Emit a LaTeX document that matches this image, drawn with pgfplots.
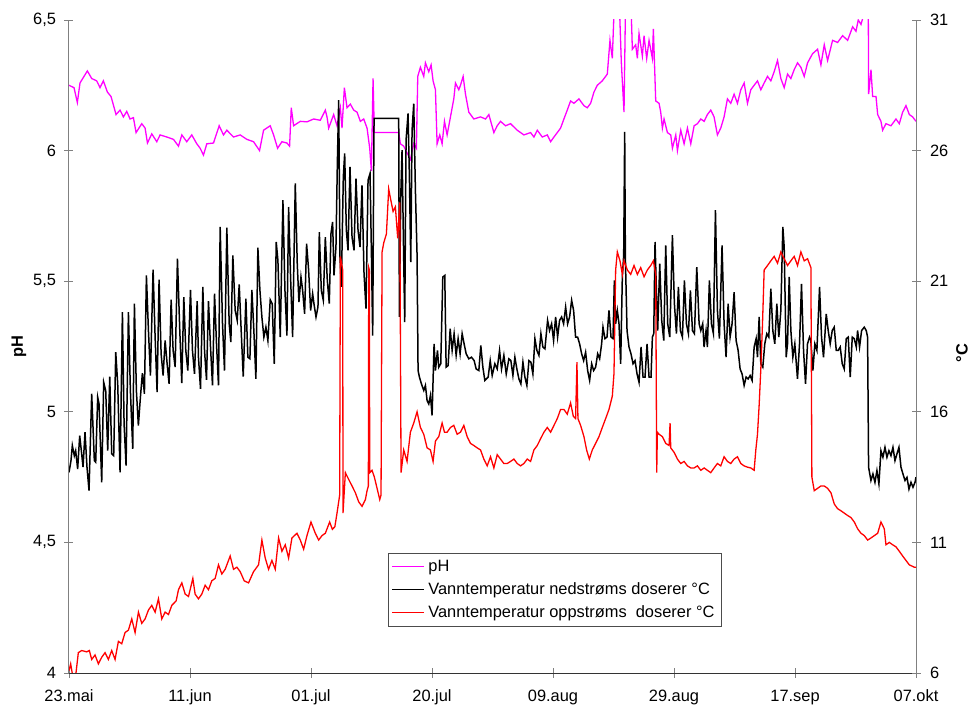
\documentclass[border=0pt]{standalone}
\usepackage{fontspec}
\setmainfont{Liberation Sans}
\usepackage{pgfplots}
\usepackage{pgfplotstable}
\pgfplotsset{compat=1.18}
\definecolor{phpink}{HTML}{FF00FF}
\definecolor{tred}{HTML}{FF0000}
\definecolor{axgray}{HTML}{808080}

\pgfplotstableread{
d v
0 6.25
0.81 6.241
1.35 6.184
1.78 6.259
2.97 6.305
3.67 6.276
4.48 6.267
5.02 6.241
5.56 6.267
6.21 6.224
6.80 6.207
7.61 6.138
8.26 6.155
8.80 6.129
9.34 6.15
9.88 6.121
10.42 6.126
10.85 6.069
11.77 6.103
12.31 6.086
12.69 6.029
13.39 6.064
14.20 6.034
14.74 6.06
15.82 6.052
16.90 6.043
17.71 6.017
18.25 6.06
19.05 6.034
19.86 6.06
20.67 6.026
21.21 6.009
21.75 5.983
22.29 6.026
23.37 6.029
24.29 6.095
24.99 6.06
25.53 6.078
26.61 6.052
27.69 6.06
28.77 6.043
29.85 6.034
30.82 6.0
31.47 6.078
32.55 6.095
33.09 6.06
33.74 6.009
34.44 6.034
35.25 6.029
35.68 6.017
35.95 6.164
36.33 6.095
37.41 6.112
38.49 6.11
39.57 6.121
40.65 6.116
41.46 6.155
41.73 6.129
42.0 6.086
42.81 6.138
43.35 6.095
43.89 6.164
44.16 6.086
44.54 6.241
44.97 6.164
45.51 6.178
46.05 6.155
46.59 6.147
47.13 6.112
47.67 6.121
48.21 6.086
48.64 6.009
48.91 5.922
49.18 6.276
49.39 6.069
53.33 6.069
53.60 6.026
54.14 6.017
54.68 5.991
55.22 5.966
55.76 6.026
56.19 6.009
56.41 6.284
56.84 6.319
57.38 6.284
57.65 6.336
58.19 6.302
58.57 6.328
58.89 6.267
59.27 6.233
59.54 6.026
59.97 6.06
60.35 6.026
60.73 6.112
61.16 6.06
61.70 6.129
62.24 6.198
62.51 6.259
63.05 6.233
63.32 6.25
63.75 6.284
64.13 6.216
64.67 6.147
65.48 6.121
66.56 6.129
67.37 6.121
67.91 6.138
68.72 6.069
69.26 6.095
69.80 6.112
70.61 6.095
71.42 6.103
72.50 6.078
73.58 6.06
74.66 6.069
75.20 6.052
75.74 6.078
76.55 6.052
77.36 6.06
77.90 6.034
78.44 6.052
78.98 6.069
79.51 6.086
80.05 6.121
80.59 6.155
81.13 6.19
81.67 6.181
82.48 6.198
83.29 6.172
83.83 6.164
84.37 6.181
84.91 6.224
85.45 6.25
86.26 6.267
87.07 6.293
87.50 6.422
87.88 6.353
88.26 6.6
88.96 6.6
89.34 6.336
89.77 6.147
90.04 6.6
90.85 6.6
91.12 6.388
91.66 6.405
91.93 6.353
92.20 6.448
92.74 6.362
93.01 6.44
93.44 6.353
93.82 6.422
94.36 6.353
94.52 6.466
94.90 6.19
95.44 6.181
95.71 6.147
95.98 6.086
96.25 6.121
96.79 6.069
97.33 6.06
97.60 6.009
98.14 6.06
98.41 6.0
98.95 6.078
99.49 6.026
100.03 6.086
100.57 6.026
101.11 6.095
101.65 6.103
102.19 6.121
102.73 6.112
103.26 6.138
103.80 6.155
104.34 6.129
104.88 6.06
105.42 6.086
105.96 6.129
106.50 6.198
107.04 6.181
107.58 6.216
108.12 6.181
108.66 6.233
109.20 6.259
109.74 6.181
110.28 6.233
110.82 6.25
111.36 6.267
111.90 6.233
112.44 6.259
112.98 6.284
113.52 6.267
114.06 6.302
114.60 6.345
115.14 6.276
115.68 6.241
116.22 6.293
116.76 6.276
117.30 6.31
117.84 6.336
118.38 6.319
118.92 6.284
119.46 6.336
120.27 6.371
121.08 6.388
121.62 6.328
122.16 6.405
122.70 6.345
123.51 6.422
124.32 6.414
125.13 6.44
125.94 6.422
126.75 6.474
127.29 6.457
127.66 6.5
128.10 6.483
128.90 6.55
129.28 6.55
129.34 6.216
129.72 6.31
129.99 6.207
130.53 6.207
130.80 6.138
131.33 6.112
131.60 6.078
132.14 6.103
132.95 6.095
133.76 6.121
134.30 6.103
134.84 6.147
135.38 6.172
135.92 6.138
136.46 6.129
137.0 6.112
}\phdata

\pgfplotstableread{
d v
0.00 13.68
0.32 14.13
0.54 14.71
0.86 14.32
1.08 14.51
1.40 13.81
1.73 15.09
2.05 14.39
2.27 13.88
2.59 15.22
2.91 13.88
3.24 12.98
3.67 16.69
4.10 14.13
4.32 14.07
4.64 16.56
4.86 16.30
5.29 13.30
5.61 17.13
5.94 16.81
6.26 14.51
6.59 17.35
6.91 14.39
7.23 14.32
7.56 18.28
7.88 17.07
8.26 13.68
8.64 19.82
8.91 15.54
9.23 13.94
9.61 19.82
9.93 16.81
10.31 14.58
10.58 20.14
10.90 16.81
11.22 15.47
11.55 16.56
11.87 17.48
12.20 16.69
12.52 21.22
12.85 19.11
13.17 17.39
13.60 21.44
13.93 18.86
14.25 16.75
14.57 21.06
14.90 18.22
15.22 17.39
15.55 18.73
15.87 17.84
16.19 17.07
16.52 20.29
16.84 18.35
17.17 17.71
17.54 21.86
17.92 19.11
18.24 17.10
18.57 20.39
18.89 18.35
19.22 17.58
19.65 20.67
19.97 18.35
20.30 17.45
20.73 20.24
20.94 18.09
21.27 16.88
21.65 20.78
21.92 18.35
22.24 17.22
22.56 20.24
22.89 18.48
23.21 17.01
23.54 20.52
23.86 18.60
24.18 17.01
24.45 23.08
24.83 19.37
25.15 17.58
25.53 23.05
25.91 19.37
26.18 18.67
26.50 21.99
26.88 19.88
27.21 19.50
27.53 20.88
27.85 19.11
28.18 17.35
28.61 20.33
28.93 18.09
29.26 18.03
29.58 20.67
29.90 19.11
30.23 17.26
30.55 22.28
30.88 20.65
31.20 19.63
31.52 18.86
31.85 19.24
32.17 18.73
32.55 20.29
32.87 20.14
33.20 17.84
33.52 22.50
33.79 21.80
34.17 18.86
34.60 24.10
34.93 20.65
35.25 18.92
35.52 23.84
35.84 21.16
36.17 18.86
36.60 24.74
36.92 21.67
37.19 20.20
37.52 21.16
37.79 20.65
38.11 19.75
38.43 22.44
38.76 21.42
39.08 19.88
39.41 20.52
39.62 20.14
39.95 19.63
40.27 20.01
40.49 22.88
40.81 20.65
41.13 20.27
41.46 22.69
41.78 21.03
42.10 20.14
42.37 22.82
42.64 23.27
42.86 21.22
43.18 22.31
43.40 25.44
43.62 27.93
43.83 21.93
44.05 20.78
44.37 24.99
44.59 25.89
44.86 22.95
45.13 22.18
45.45 25.38
45.78 22.69
46.10 22.18
46.42 24.93
46.75 22.95
47.07 22.31
47.39 24.67
47.72 21.29
48.04 19.95
48.37 24.87
48.69 25.12
48.91 22.18
49.12 18.92
49.34 27.23
53.33 27.23
53.44 19.63
53.66 24.23
53.87 26.02
54.09 22.57
54.30 19.43
54.52 26.40
54.84 27.42
55.06 24.99
55.28 21.73
55.49 26.78
55.76 27.80
56.03 24.48
56.30 21.99
56.46 17.58
56.68 17.33
57.00 17.07
57.38 16.82
57.65 17.01
57.92 16.43
58.19 16.30
58.46 16.62
58.73 15.86
59.05 18.60
59.27 17.58
59.60 18.35
59.81 17.71
60.13 17.84
60.46 21.16
60.78 21.22
61.00 17.71
61.32 17.77
61.65 19.18
61.97 18.35
62.29 18.99
62.62 18.16
62.94 18.80
63.26 18.22
63.59 18.99
63.91 18.60
64.24 18.22
64.67 18.03
65.10 18.09
65.53 17.96
65.86 17.64
66.29 17.58
66.61 18.54
66.94 17.71
67.26 17.20
67.80 17.33
68.13 17.96
68.45 17.39
68.88 17.84
69.26 17.64
69.64 18.35
69.96 17.64
70.34 18.16
70.72 17.45
71.15 18.03
71.47 17.96
71.80 17.39
72.12 18.09
72.44 17.64
72.77 17.26
73.09 17.07
73.42 17.90
73.74 17.33
74.06 17.01
74.39 17.96
74.71 17.90
75.03 17.45
75.36 18.80
75.68 18.35
76.01 18.16
76.33 18.99
76.65 18.48
76.98 18.41
77.41 19.50
77.73 19.11
78.06 19.37
78.38 18.73
78.71 19.63
79.03 18.86
79.35 19.50
79.68 19.63
80.00 19.37
80.33 20.01
80.65 19.37
80.97 19.63
81.30 20.27
81.62 19.88
81.94 18.86
82.27 18.86
82.59 18.60
82.92 18.22
83.24 17.96
83.56 18.28
83.89 17.58
84.21 17.20
84.54 17.84
84.86 17.58
85.18 17.71
85.51 18.22
85.83 18.03
86.15 18.60
86.37 19.24
86.69 18.80
87.02 18.86
87.34 19.88
87.67 18.86
87.99 18.80
88.21 21.03
88.42 19.37
88.69 19.88
88.96 19.37
89.23 17.84
89.50 21.16
89.72 21.99
89.88 26.72
89.99 21.93
90.26 19.11
90.58 18.48
90.90 18.22
91.23 17.84
91.55 17.96
91.88 17.45
92.20 17.13
92.53 18.48
92.85 17.33
93.17 17.33
93.50 18.60
93.82 17.33
94.14 17.33
94.36 18.86
94.58 18.99
94.79 22.50
95.01 20.65
95.22 19.11
95.55 21.67
95.87 19.50
96.20 18.73
96.52 22.37
96.84 19.37
97.17 18.86
97.60 22.76
97.92 20.14
98.25 18.99
98.57 20.78
98.89 19.11
99.22 18.86
99.54 21.03
99.87 19.37
100.19 18.99
100.51 20.65
100.84 19.11
101.16 18.99
101.54 21.54
101.92 19.37
102.19 19.11
102.50 19.37
102.72 18.48
103.04 19.11
103.26 18.48
103.58 21.03
103.91 19.37
104.23 18.99
104.56 23.72
104.88 19.88
105.20 18.80
105.63 22.37
105.96 19.37
106.28 18.09
106.61 20.14
106.93 18.86
107.25 19.37
107.58 20.58
107.90 18.73
108.23 18.35
108.55 17.64
108.87 17.45
109.20 17.01
109.52 17.33
109.85 17.26
110.17 17.39
110.49 17.20
110.82 18.48
111.14 18.80
111.36 18.09
111.63 19.63
111.90 17.84
112.22 17.71
112.54 18.60
112.87 18.99
113.19 18.86
113.52 20.71
113.84 19.11
114.16 18.60
114.49 20.14
114.81 18.86
115.14 19.88
115.46 23.08
115.68 22.31
116.00 18.09
116.22 18.60
116.49 21.16
116.76 19.11
117.08 18.09
117.40 18.60
117.83 17.26
118.16 18.60
118.48 20.90
118.81 18.35
119.13 17.07
119.45 18.60
119.78 18.86
119.99 18.73
120.32 17.58
120.64 18.60
120.97 18.35
121.40 20.78
121.72 18.86
122.04 18.09
122.48 19.75
122.80 19.11
123.12 18.60
123.45 19.11
123.77 19.24
124.10 18.35
124.42 18.35
124.74 18.48
125.07 17.84
125.39 17.64
125.72 18.80
126.04 18.86
126.36 17.33
126.69 18.86
127.01 18.80
127.34 18.48
127.55 19.11
127.87 18.48
128.20 19.11
128.63 19.24
128.95 19.11
129.17 18.86
129.33 13.88
129.71 13.37
130.03 13.62
130.36 13.30
130.68 13.75
131.00 13.24
131.33 14.51
131.65 14.26
131.98 14.64
132.30 14.26
132.62 14.51
132.95 14.32
133.27 14.64
133.60 14.13
133.92 14.39
134.24 14.64
134.57 13.88
134.89 13.62
135.22 13.37
135.54 13.49
135.86 13.04
136.19 13.30
136.51 13.11
136.84 13.30
137.0 13.5
}\blackdata

\pgfplotstableread{
d v
0.00 6.09
0.27 6.35
0.59 5.9
1.13 6.0
1.51 6.78
2.05 6.86
2.86 6.81
3.29 6.86
3.67 6.52
4.21 6.69
4.75 6.35
5.29 6.60
5.83 6.78
6.37 6.52
6.91 6.86
7.45 6.52
7.99 7.21
8.53 7.12
9.07 7.55
9.61 7.64
10.15 8.07
10.69 7.55
11.23 8.33
11.77 7.90
12.31 8.07
12.85 8.41
13.39 8.59
13.93 8.33
14.47 8.84
15.01 8.07
15.55 8.33
16.09 8.24
16.63 8.59
17.33 8.76
17.71 9.19
18.25 9.45
18.79 9.02
19.33 8.93
20.03 9.62
20.40 9.02
20.94 8.84
21.48 9.02
22.02 9.36
22.56 9.19
23.10 9.53
23.64 9.62
24.18 10.14
24.72 9.79
25.26 9.97
26.07 10.48
26.61 9.97
27.15 10.05
27.69 9.88
28.34 9.53
29.04 9.45
29.85 9.88
30.66 10.14
31.20 11.09
31.74 10.40
32.28 9.97
32.82 10.31
33.36 9.97
33.90 11.17
34.44 10.66
34.98 10.91
35.52 10.40
36.06 11.17
36.87 11.35
37.41 11.09
37.95 10.74
38.49 11.26
39.14 11.78
39.84 11.35
40.38 11.09
40.92 11.26
41.46 11.35
42.16 11.78
42.60 11.50
43.00 11.60
43.35 12.12
43.78 12.81
43.89 21.95
44.27 21.43
44.32 12.12
44.70 13.67
45.24 13.41
45.78 13.16
46.32 12.90
46.86 12.55
47.40 12.38
47.94 12.64
48.21 12.98
48.42 13.16
48.48 21.52
48.58 21.43
48.64 13.67
49.02 13.76
49.39 13.50
49.83 13.07
50.26 12.64
50.47 12.81
50.64 22.12
50.91 22.47
51.34 22.81
51.71 24.53
51.98 24.19
52.42 23.67
52.79 23.85
53.17 22.64
53.50 24.02
53.71 13.67
54.14 14.54
54.68 14.10
55.22 15.22
55.76 15.57
56.30 16.00
56.84 15.40
57.38 15.14
57.92 14.62
58.46 14.54
58.89 14.10
59.27 14.88
59.81 15.05
60.35 15.57
60.73 15.22
61.16 15.22
61.70 15.40
62.24 15.48
62.78 15.14
63.32 15.22
63.86 15.48
64.40 15.05
64.94 14.79
65.48 14.71
66.02 14.62
66.56 14.54
67.10 14.19
67.64 13.93
68.18 14.28
68.72 13.85
69.26 14.36
69.80 14.19
70.34 14.02
70.88 14.02
71.42 14.10
71.96 14.19
72.50 14.02
73.04 13.93
73.58 14.02
74.12 14.19
74.66 14.10
75.20 14.54
75.74 14.71
76.28 14.97
76.82 15.22
77.36 15.40
77.90 15.22
78.44 15.48
78.98 15.74
79.51 16.09
80.05 16.09
80.59 15.91
81.13 16.34
81.57 15.83
81.94 15.74
82.16 17.90
82.32 15.74
82.75 15.48
83.29 15.05
83.72 14.54
84.16 14.19
84.64 14.54
85.18 14.79
85.72 15.05
86.26 15.40
86.80 15.74
87.34 16.09
87.88 16.60
88.15 17.47
88.42 21.43
88.69 22.12
89.12 21.78
89.50 21.26
89.77 21.78
90.31 21.43
90.85 21.26
91.39 21.60
91.93 21.26
92.47 21.52
93.01 21.17
93.55 21.43
94.09 21.60
94.52 21.78
94.90 21.26
95.06 13.67
95.17 15.22
95.44 15.14
95.98 15.05
96.52 14.79
97.06 14.71
97.22 15.57
97.33 14.62
97.87 14.45
98.41 14.19
98.95 14.02
99.49 14.10
100.03 13.93
100.57 13.85
101.11 13.85
101.65 13.93
102.19 13.76
102.73 13.85
103.26 13.76
103.80 13.67
104.34 13.85
104.88 14.02
105.42 13.93
105.96 14.28
106.50 14.10
107.04 14.02
107.58 14.19
108.12 14.28
108.66 14.02
109.20 13.93
109.74 13.88
110.28 13.85
110.82 13.76
111.09 14.54
111.36 15.14
111.63 16.26
111.90 17.64
112.17 19.36
112.44 21.43
112.98 21.60
113.52 21.78
114.06 21.95
114.60 21.69
115.14 22.12
115.68 21.86
116.22 21.60
116.76 21.78
117.30 21.95
117.84 21.60
118.38 22.12
118.92 21.78
119.46 21.86
120.00 21.52
120.16 13.50
120.54 12.98
121.08 13.07
121.62 13.16
122.16 13.16
122.70 13.07
123.24 12.90
123.78 12.47
124.32 12.29
124.86 12.21
125.40 12.12
125.94 12.03
126.48 11.95
127.02 11.78
127.56 11.52
128.10 11.35
128.64 11.26
129.18 11.09
129.72 11.17
130.26 11.26
130.80 11.35
131.33 11.78
131.87 11.52
132.14 10.91
132.68 11.00
133.22 10.91
133.76 10.83
134.30 10.66
134.84 10.48
135.38 10.31
135.92 10.14
136.73 10.05
137.00 10.05
}\reddata

\begin{document}
\begin{tikzpicture}
\path[use as bounding box] (-69bp,-33bp) rectangle (902bp,673bp);
\pgfplotsset{
  common/.style={
    at={(0,0)}, anchor=south west, scale only axis,
    width=847bp, height=653bp,
    xmin=0, xmax=137,
    font=\fontsize{16.4bp}{19bp}\selectfont,
    tick align=center, major tick length=9bp,
    tick style={axgray, line width=0.8bp},
    /pgf/number format/assume math mode=true,
  }
}
\begin{axis}[common,
  ymin=4, ymax=6.5,
  axis x line*=bottom, axis y line*=left,
  x axis line style={black!80, line width=0.8bp},
  y axis line style={axgray, line width=1bp},
  xtick={0,19.5714,39.1429,58.7143,78.2857,97.8571,117.4286,137},
  xticklabels={23.mai,11.jun,01.jul,20.jul,09.aug,29.aug,17.sep,07.okt},
  xticklabel style={yshift=-9bp},
  ytick={4,4.5,5,5.5,6,6.5},
  yticklabels={4,{4,5},5,{5,5},6,{6,5}},
  yticklabel style={xshift=-5bp},
  ylabel={\bfseries pH},
  ylabel style={at={(axis description cs:-0.059,0.5)}, anchor=center},
]
\addplot[phpink, line width=1.3bp] table[x=d, y=v] {\phdata};
\end{axis}
\begin{axis}[common,
  ymin=6, ymax=31,
  axis y line*=right, hide x axis,
  y axis line style={axgray, line width=1bp},
  ytick={6,11,16,21,26,31},
  yticklabels={6,11,16,21,26,31},
  yticklabel style={xshift=6bp},
  ylabel={\bfseries °C},
  ylabel style={at={(axis description cs:1.0543,0.49)}, anchor=center, rotate=0},
  legend style={at={(axis description cs:0.3766,0.1838)}, anchor=north west,
    draw=black!70, line width=0.8bp, fill=white,
    font=\fontsize{16.4bp}{19bp}\selectfont,
    inner xsep=3bp, inner ysep=4.5bp, row sep=4.5bp,
    nodes={inner xsep=3.5bp, inner ysep=2.5bp}},
  legend cell align=left,
  legend image code/.code={\draw[#1] (0bp,0bp) -- (32bp,0bp);},
]
\addlegendimage{phpink, line width=1.3bp}
\addlegendentry{pH}
\addplot[black, line width=1.5bp] table[x=d, y=v] {\blackdata};
\addlegendentry{Vanntemperatur nedstrøms doserer °C}
\addplot[tred, line width=1.3bp] table[x=d, y=v] {\reddata};
\addlegendentry{Vanntemperatur oppstrøms\ \ doserer °C}
\end{axis}
\end{tikzpicture}
\end{document}
